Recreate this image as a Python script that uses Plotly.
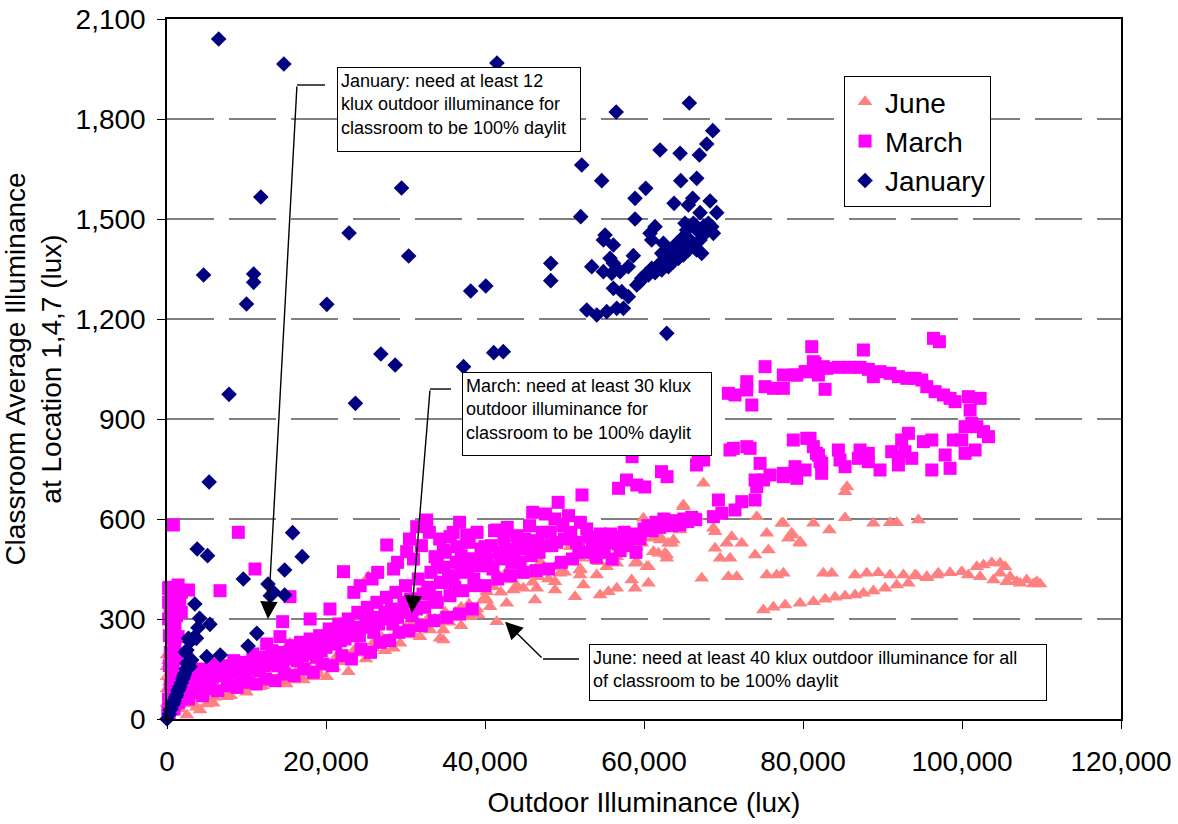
import plotly.graph_objects as go

# ---------------- data (outdoor lux, classroom lux) ----------------
june_origin = [(0, 157), (0, 192), (0, 127), (0, 47), (0, 90), (200, 175), (300, 110), (400, 60),
               (500, 145), (600, 20), (700, 100), (800, 185), (900, 45), (1000, 130), (1200, 75),
               (1400, 160), (1600, 30), (1800, 110), (2000, 55), (2200, 140), (2500, 12), (2700, 90),
               (3000, 45), (3300, 120), (3700, 35), (4150, 27), (4600, 75), (5000, 45), (5400, 100),
               (5830, 47), (6300, 80), (6900, 157), (7500, 67), (8000, 110), (8500, 85), (9000, 130)]
june_band = [(9600, 87), (10200, 115), (10800, 100), (11400, 140), (11700, 97), (12300, 125),
             (12900, 110), (13500, 150), (13800, 107), (14400, 135), (15000, 125), (15470, 227),
             (15690, 177), (15900, 117), (16500, 150), (17150, 117), (17700, 160), (18400, 127),
             (18830, 147), (19400, 170), (20090, 127), (20720, 167), (21400, 190), (21980, 172),
             (22610, 182), (22810, 142), (23500, 205), (24280, 197), (25000, 180), (25330, 427),
             (25960, 212), (26700, 230), (27400, 205), (28480, 212), (29310, 227), (30100, 260),
             (31000, 252), (31830, 247), (31830, 272), (32500, 290), (33090, 267), (33700, 300),
             (34340, 242), (34760, 237), (34760, 267), (35500, 290), (36300, 320), (37000, 280),
             (38120, 307), (39160, 312), (39790, 357), (40220, 382), (40220, 357), (40640, 337),
             (41050, 397), (41470, 292), (41680, 432), (42730, 347), (43360, 417), (43560, 387),
             (44400, 432), (44820, 392), (45460, 432), (46290, 357), (46500, 392), (46710, 427),
             (48810, 387), (48810, 412), (48810, 457), (49440, 437), (50700, 517), (51330, 367),
             (51960, 432), (51960, 447), (51960, 482), (52380, 402), (53640, 482), (54060, 432),
             (54260, 472), (54470, 372), (54470, 532), (55310, 457), (55310, 517), (55520, 382),
             (55940, 517), (56360, 527), (56570, 392), (56570, 467), (56570, 487), (57410, 537),
             (57410, 562), (57830, 527), (57830, 557), (58450, 417), (58870, 392), (58870, 467),
             (59090, 472), (59090, 517), (59720, 527), (59720, 547), (59930, 602), (60350, 457),
             (60560, 407), (60560, 457), (60760, 567), (61180, 502), (61180, 542), (61810, 497),
             (62020, 537), (62020, 547), (62650, 497), (62860, 482), (62860, 492), (63070, 527),
             (63490, 527), (63700, 537), (64540, 567), (64960, 637), (64960, 642), (66630, 607),
             (67260, 422), (67470, 707)]
june_fill = [(3000, 70), (4000, 60), (6000, 65), (7000, 85), (8000, 70), (9000, 95), (10000, 80),
             (11000, 110), (12000, 100), (13000, 115), (14000, 120), (15000, 105), (16000, 135),
             (17000, 140), (18000, 150), (19000, 135), (20000, 160), (21000, 155), (22000, 175),
             (23000, 190), (24000, 215), (25000, 205), (26000, 230), (27000, 245), (28000, 240),
             (29000, 260), (30000, 275), (31000, 290), (32000, 285), (33000, 305), (34000, 290),
             (35000, 320), (36000, 305), (37000, 335), (38000, 345), (39000, 330), (40000, 365),
             (42000, 380), (44000, 400), (46000, 410), (48000, 420), (50000, 440), (52000, 450),
             (5000, 120), (9000, 160), (14000, 190), (19000, 230), (24000, 270), (28000, 310),
             (33000, 350), (37000, 380), (43000, 450), (47000, 470), (53000, 500)]
june_high = [(68730, 572), (68940, 512), (68940, 562), (69570, 482), (70400, 527), (70610, 427),
             (70820, 482), (71040, 547), (71660, 427), (72300, 527), (73970, 492), (74180, 607),
             (75020, 327), (75440, 432), (75440, 557), (75650, 507), (76280, 335), (76700, 432),
             (77320, 587), (77530, 437), (77530, 587), (77750, 342), (78160, 542), (78580, 552),
             (78580, 557), (79630, 347), (79630, 527), (79630, 532), (81310, 352), (81310, 587),
             (82560, 437), (82780, 359), (83320, 567), (83620, 437), (84030, 365), (85290, 369),
             (85290, 604), (85290, 682), (85530, 697), (86550, 372), (86550, 432), (87600, 377),
             (88020, 437), (88850, 384), (88850, 587), (89480, 439), (90320, 392), (90950, 432),
             (90950, 589), (91790, 402), (91790, 589), (92630, 432), (93260, 407), (94100, 432),
             (94310, 429), (94520, 597), (95570, 424), (95570, 427), (96830, 432), (97040, 437),
             (98500, 439), (99970, 442), (100800, 432), (101860, 457), (102280, 427), (102700, 462),
             (103750, 469), (103960, 417), (104790, 467), (104790, 437), (105420, 457), (105630, 412),
             (106050, 427), (106890, 412), (107310, 407), (108140, 417), (108980, 405), (109400, 412),
             (109820, 405)]

march_origin = [(800, 582), (200, 392), (400, 367), (1400, 402), (2700, 387), (800, 347), (400, 317),
                (1600, 357), (1000, 282), (1400, 247), (1000, 217), (600, 127), (300, 395), (1800, 380),
                (600, 330), (200, 300), (1200, 310), (300, 250), (800, 265), (600, 200), (1200, 190),
                (300, 160), (800, 160), (400, 100), (1000, 110), (200, 60), (600, 70), (100, 20),
                (400, 35), (800, 50), (1500, 95), (2000, 130), (1200, 70), (200, 350), (1000, 380),
                (600, 240), (1800, 320), (400, 200)]
march_band = [(300, 20), (600, 40), (900, 30), (1200, 65), (1500, 50), (1800, 100), (2100, 75),
              (2400, 120), (2700, 60), (3000, 95), (3300, 140), (3600, 80), (3900, 115), (4200, 150),
              (4500, 70), (4800, 105), (5100, 145), (5400, 90), (5700, 125), (6000, 165), (6400, 85),
              (6800, 130), (7200, 160), (7600, 100), (8000, 140), (8400, 175), (8800, 95), (9200, 130),
              (9600, 170), (10000, 110), (10400, 150), (10800, 195), (11200, 105), (11600, 145),
              (12000, 185), (12400, 120), (12800, 165), (13200, 205), (13600, 115), (14000, 160),
              (14400, 200), (14800, 135), (15200, 180), (15600, 220), (16000, 130), (16400, 175),
              (16800, 230), (17200, 150), (17600, 195), (18000, 240), (18400, 140), (18800, 185),
              (19200, 250), (19600, 165), (20000, 215), (20400, 270), (20800, 160), (21200, 225),
              (21600, 285), (22000, 190), (22400, 240), (22800, 300), (23200, 180), (23600, 250),
              (24000, 320), (24400, 210), (24800, 275), (25200, 335), (25600, 200), (26000, 260),
              (26400, 350), (26800, 230), (27200, 300), (27600, 365), (28000, 235), (28400, 285),
              (28800, 380), (29200, 260), (29600, 320), (30000, 400), (30400, 265), (30800, 310),
              (31200, 360), (31600, 420), (32000, 280), (32400, 335), (32800, 390), (33200, 440),
              (33600, 295), (34000, 350), (34400, 410), (34800, 455), (35200, 305), (35600, 370),
              (36000, 430), (36400, 470), (36800, 315), (37200, 385), (37600, 445), (38000, 480),
              (38400, 330), (38800, 400), (39200, 460), (39600, 495), (40000, 400), (40400, 460),
              (40800, 520), (41200, 565), (41600, 420), (42000, 480), (42400, 540), (42800, 575),
              (43200, 430), (43600, 495), (44000, 550), (44400, 470), (44800, 440), (45200, 510),
              (45600, 580), (46000, 620), (46400, 445), (46800, 500), (47200, 560), (47600, 615),
              (48000, 450), (48400, 520), (48800, 600), (49200, 650), (49600, 470), (50000, 540),
              (50500, 610), (51000, 480), (51500, 530), (52000, 590), (52500, 500), (53000, 545),
              (53500, 520), (54000, 485), (54500, 555), (55000, 500), (55500, 530), (56000, 480),
              (56500, 545), (57000, 505), (57500, 560), (58000, 520), (58500, 555), (59000, 500),
              (59500, 540), (60000, 570), (60500, 580), (61000, 565), (61500, 590), (62000, 575),
              (62500, 600), (63000, 585), (63500, 580), (64000, 595), (64500, 582), (65000, 600),
              (65500, 592), (66000, 605), (66500, 598)]
march_fill = [(1000, 45), (1600, 80), (2200, 100), (2800, 120), (3400, 105), (4000, 130), (4600, 140),
              (5200, 120), (5800, 145), (6600, 150), (7400, 130), (8200, 155), (9000, 150), (9800, 145),
              (10600, 170), (11400, 175), (12200, 160), (13000, 185), (13800, 180), (14600, 170),
              (15400, 200), (16200, 205), (17000, 190), (17800, 215), (18600, 220), (19400, 205),
              (20200, 240), (21000, 250), (21800, 235), (22600, 265), (23400, 275), (24200, 250),
              (25000, 295), (25800, 305), (26600, 285), (27400, 320), (28200, 330), (29000, 305),
              (29800, 350), (30600, 360), (31400, 330), (32200, 375), (33000, 395), (33800, 365),
              (34600, 410), (35400, 425), (36200, 395), (37000, 440), (37800, 455), (38600, 420),
              (39400, 470), (40200, 480), (41000, 450), (41800, 500), (42600, 510), (43400, 470),
              (44200, 520), (45000, 540), (45800, 490), (46600, 535), (47400, 520), (48200, 560),
              (49000, 530), (49800, 580), (50800, 560), (51800, 505), (52800, 570), (53800, 540),
              (54800, 520), (55800, 555), (56800, 525), (57800, 540)]
march_scatter = [(8970, 560), (11070, 450), (6670, 385), (15470, 367), (14550, 292), (14210, 247),
                 (12540, 225), (22200, 442), (24300, 400), (25800, 420), (27640, 522), (28500, 450),
                 (30150, 502), (31410, 577), (32670, 597), (33720, 487), (34760, 507), (35600, 547),
                 (36440, 517), (37700, 552), (38600, 480), (40000, 517), (41470, 567), (52200, 672),
                 (56800, 692), (57800, 717), (59100, 702), (58500, 787), (60100, 696), (62200, 742),
                 (62900, 727), (66800, 777), (67500, 777), (67300, 782), (66600, 762),
                 (29000, 470), (30500, 540), (31000, 480), (32000, 520), (33000, 560), (34000, 470),
                 (35000, 500), (36000, 560), (37000, 490), (38000, 530), (39000, 560), (39500, 510),
                 (36800, 590), (34300, 540), (26500, 440), (23500, 380), (20500, 330), (18000, 300)]
march_lower_arc = [(68730, 607), (69360, 657), (69780, 617), (70820, 807), (71240, 812), (71450, 627),
                   (72300, 652), (72930, 817), (73350, 812), (73970, 657), (73970, 717), (74180, 697),
                   (74600, 767), (75020, 717), (75860, 732), (77530, 737), (77530, 727), (78780, 837),
                   (79000, 742), (79000, 757), (79210, 722), (80260, 747), (80470, 842), (80890, 842),
                   (81300, 817), (81700, 797), (81940, 792), (82150, 772), (82350, 767), (82350, 737),
                   (84450, 807), (84660, 777), (85290, 757), (86970, 782), (87180, 807), (88220, 797),
                   (88220, 772), (89690, 747), (91160, 802), (92000, 787), (92000, 762), (92410, 837),
                   (92820, 802), (93260, 857), (93680, 782), (95150, 832), (96200, 837), (96200, 747),
                   (97880, 792), (98500, 752), (98920, 837), (99970, 837), (100390, 797), (100390, 877),
                   (101230, 887), (101650, 807), (101860, 877), (102700, 862), (103330, 847)]
march_upper_arc = [(70610, 977), (71450, 972), (72930, 1012), (72930, 987), (73560, 942), (75230, 1057),
                   (75230, 997), (76290, 992), (77530, 1032), (77530, 992), (78990, 1032), (79210, 1032),
                   (80260, 1042), (80470, 1042), (81100, 1117), (81300, 1072), (81520, 1067), (81940, 1032),
                   (82560, 1057), (82780, 989), (82990, 1052), (84450, 1055), (85920, 1055), (87180, 1055),
                   (87600, 1107), (88220, 1049), (88850, 1027), (89690, 1042), (90950, 1037), (92000, 1027),
                   (93050, 1022), (94100, 1022), (94940, 1017), (95570, 997), (96410, 1142), (97160, 1132),
                   (96620, 982), (97660, 972), (98500, 962), (99130, 952), (100800, 967), (102280, 962),
                   (101020, 927)]

jan_outliers = [(6500, 2040), (14700, 1965), (41500, 1968), (56500, 1821), (65700, 1848), (11800, 1566),
                (29500, 1593), (22900, 1458), (30400, 1389), (4600, 1332), (10900, 1335), (10900, 1310),
                (38200, 1284), (40100, 1299), (10000, 1245), (20100, 1244), (26900, 1095), (28700, 1062),
                (37300, 1057), (41100, 1099), (42300, 1102), (7800, 974), (23700, 947), (5300, 711),
                (15800, 559), (17000, 487), (3800, 510), (5100, 490), (14800, 447), (9600, 420),
                (12700, 405), (13400, 380), (13000, 370), (14800, 372), (3500, 345), (4100, 302),
                (5400, 284), (11300, 257), (10200, 219), (5000, 187), (6700, 192), (3300, 242), (2500, 207)]
jan_rise = [(0, 0), (300, 15), (400, 27), (500, 30), (700, 42), (800, 47), (900, 55), (1100, 66),
            (1200, 72), (1400, 85), (1500, 90), (1600, 97), (1800, 108), (2000, 120), (2100, 128),
            (2200, 135), (2400, 150), (2500, 167), (2700, 165), (2900, 157), (3100, 177), (2300, 200),
            (2900, 232), (3700, 242), (3900, 274), (3500, 247), (2700, 242)]
jan_cluster = [(68650, 1765), (67890, 1725), (66970, 1692), (62020, 1707), (64540, 1697), (52170, 1662),
               (54680, 1615), (64620, 1615), (66630, 1622), (60220, 1592), (58870, 1562), (63780, 1547),
               (66130, 1562), (65580, 1542), (68310, 1554), (69150, 1519), (67050, 1519), (52040, 1507),
               (58870, 1500), (61390, 1477), (60760, 1457), (60970, 1437), (62440, 1427), (55100, 1452),
               (54890, 1437), (56150, 1422), (62230, 1397), (55730, 1382), (58660, 1390), (48270, 1367),
               (48270, 1315), (53430, 1357), (56150, 1367), (54890, 1342), (58030, 1357), (56990, 1342),
               (55940, 1337), (56150, 1292), (57200, 1282), (58030, 1267), (52800, 1227), (54060, 1212),
               (55310, 1222), (56570, 1232), (57410, 1232), (62860, 1157), (59090, 1302), (59720, 1322),
               (60560, 1332), (61390, 1339), (62230, 1347), (63070, 1357), (63700, 1372), (64330, 1382),
               (64960, 1392), (65580, 1407), (66210, 1417), (67050, 1437), (67680, 1457), (68520, 1477),
               (64120, 1427), (64960, 1447), (65370, 1467), (66210, 1487), (66630, 1467), (67470, 1477),
               (65790, 1437), (66630, 1407), (67260, 1397), (68100, 1487), (68730, 1457), (63490, 1407),
               (64540, 1412), (65160, 1487), (65370, 1417), (62020, 1367), (60970, 1352), (60130, 1332),
               (59510, 1312), (62650, 1387)]

series = [
    ("June", june_origin + june_band + june_fill + june_high, "triangle-up", "#FF8080", 13),
    ("March", march_origin + march_band + march_fill + march_scatter + march_lower_arc + march_upper_arc,
     "square", "#FF00FF", 13),
    ("January", jan_rise + jan_outliers + jan_cluster, "diamond", "#000080", 12),
]

fig = go.Figure()
for name, pts, sym, col, size in series:
    fig.add_trace(go.Scatter(
        x=[p[0] for p in pts], y=[p[1] for p in pts], mode="markers", name=name,
        marker=dict(symbol=sym, color=col, size=size, line=dict(width=0)),
        cliponaxis=False,
    ))

FONT = "Arial, Liberation Sans, sans-serif"

# callout boxes (paper coordinates)
notes = [
    ("January: need at least 12<br>klux outdoor illuminance for<br>classroom to be 100% daylit",
     0.1782, 0.9314, 236, 77),
    ("March: need at least 30 klux<br>outdoor illuminance for<br>classroom to be 100% daylit",
     0.3092, 0.4957, 242, 76),
    ("June: need at least 40 klux outdoor illuminance for all<br>of classroom to be 100% daylit",
     0.4423, 0.1071, 450, 49),
]
annotations = []
for text, x0, y0, w, h in notes:
    annotations.append(dict(
        text=text, xref="paper", yref="paper", x=x0, y=y0, xanchor="left", yanchor="top",
        width=w, height=h, align="left", valign="top", showarrow=False,
        bordercolor="black", borderwidth=1, borderpad=3, bgcolor="white",
        font=dict(family=FONT, size=18, color="black"),
    ))

# leader arrows: (head x, head y, tail x, tail y) in data units
arrows = [(12700, 300, 16350, 1902), (30800, 318, 33090, 990), (42520, 292, 47300, 180)]
for hx, hy, tx, ty in arrows:
    annotations.append(dict(
        text="", x=hx, y=hy, ax=tx, ay=ty, xref="x", yref="y", axref="x", ayref="y",
        showarrow=True, arrowhead=2, arrowsize=2.5, arrowwidth=1.4, arrowcolor="black",
        standoff=0, startstandoff=0,
    ))

# horizontal stubs from the boxes to the arrow elbows
stubs = [(0.1363, 0.1656, 0.9057), (0.2757, 0.2977, 0.4714), (0.3941, 0.4319, 0.0857)]
shapes = [dict(type="line", xref="paper", yref="paper", x0=a, x1=b, y0=y, y1=y,
               line=dict(color="black", width=1.4)) for a, b, y in stubs]

fig.update_layout(
    width=1178, height=824,
    margin=dict(l=167, r=57, t=19, b=105, autoexpand=False),
    paper_bgcolor="white", plot_bgcolor="white",
    font=dict(family=FONT, size=28, color="black"),
    legend=dict(x=0.7097, y=0.9186, xanchor="left", yanchor="top",
                bordercolor="black", borderwidth=1, bgcolor="white",
                font=dict(family=FONT, size=28), tracegroupgap=0),
    annotations=annotations, shapes=shapes,
)
fig.update_xaxes(
    range=[0, 120000], tickvals=[0, 20000, 40000, 60000, 80000, 100000, 120000],
    tickformat=",d", showline=True, linecolor="black", linewidth=1.5, mirror=True,
    ticks="outside", ticklen=8, tickcolor="black", tickwidth=1.2, showgrid=False, zeroline=False,
    ticklabelstandoff=9, automargin=False,
    title=dict(text="Outdoor Illuminance (lux)", font=dict(family=FONT, size=28), standoff=16),
)
fig.update_yaxes(
    range=[0, 2100], tickvals=[0, 300, 600, 900, 1200, 1500, 1800, 2100],
    tickformat=",d", showline=True, linecolor="black", linewidth=1.5, mirror=True,
    ticks="outside", ticklen=8, tickcolor="black", tickwidth=1.2,
    showgrid=True, gridcolor="#808080", gridwidth=1.5, griddash="47px,15px", zeroline=False,
    ticklabelstandoff=6, automargin=False,
    title=dict(text="Classroom Average Illuminance<br>at Location 1,4,7 (lux)",
               font=dict(family=FONT, size=28), standoff=12),
)

fig.write_html("out.html")
